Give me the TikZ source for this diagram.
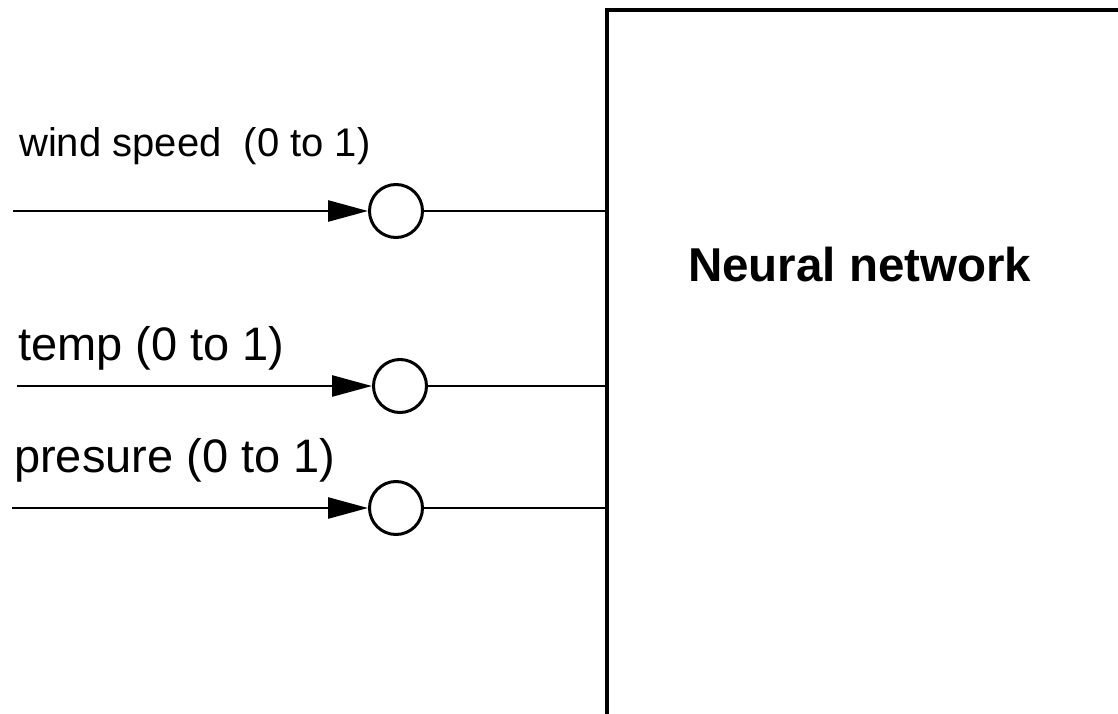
\documentclass[tikz,border=0pt]{standalone}
\usepackage{fontspec}
\setmainfont{Liberation Sans}
\usetikzlibrary{arrows.meta}
\begin{document}
\begin{tikzpicture}[x=1pt,y=-1pt,
  inp/.style={circle,draw,line width=3pt,minimum size=53pt,inner sep=0pt},
  feed/.style={line width=2.6pt,-{Triangle[length=40pt,width=21pt]}},
  wire/.style={line width=2.6pt},
  frame/.style={line width=3.2pt},
  lblsmall/.style={anchor=base west,inner sep=0pt,font=\fontsize{40}{48}\selectfont},
  lbl/.style={anchor=base west,inner sep=0pt,font=\fontsize{47}{56}\selectfont},
  title/.style={anchor=base west,inner sep=0pt,font=\fontsize{47.5}{57}\selectfont\bfseries}]
\useasboundingbox (0,0) rectangle (1118,714);
% box
\coordinate (tl) at (607,10);
\coordinate (tr) at (1120,10);
\coordinate (bl) at (607,716);
\draw[frame] (tr) -- (tl) -- (bl);
\node[title] (nn) at (688,281) {Neural network};
% inputs
\node[inp] (c1) at (396,211) {};
\node[inp] (c2) at (400,386) {};
\node[inp] (c3) at (396,508) {};
\coordinate (s1) at (13,211);
\coordinate (s2) at (17,386);
\coordinate (s3) at (12,508);
\draw[feed] (s1) -- (c1.west);
\draw[feed] (s2) -- (c2.west);
\draw[feed] (s3) -- (c3.west);
\draw[wire] (c1.east) -- (c1.east -| tl);
\draw[wire] (c2.east) -- (c2.east -| tl);
\draw[wire] (c3.east) -- (c3.east -| tl);
\node[lblsmall] (l1) at (19,157) {wind speed\ \ (0 to 1)};
\node[lbl] (l2) at (18,360) {temp (0 to 1)};
\node[lbl] (l3) at (14,472) {presure (0 to 1)};
\end{tikzpicture}
\end{document}
